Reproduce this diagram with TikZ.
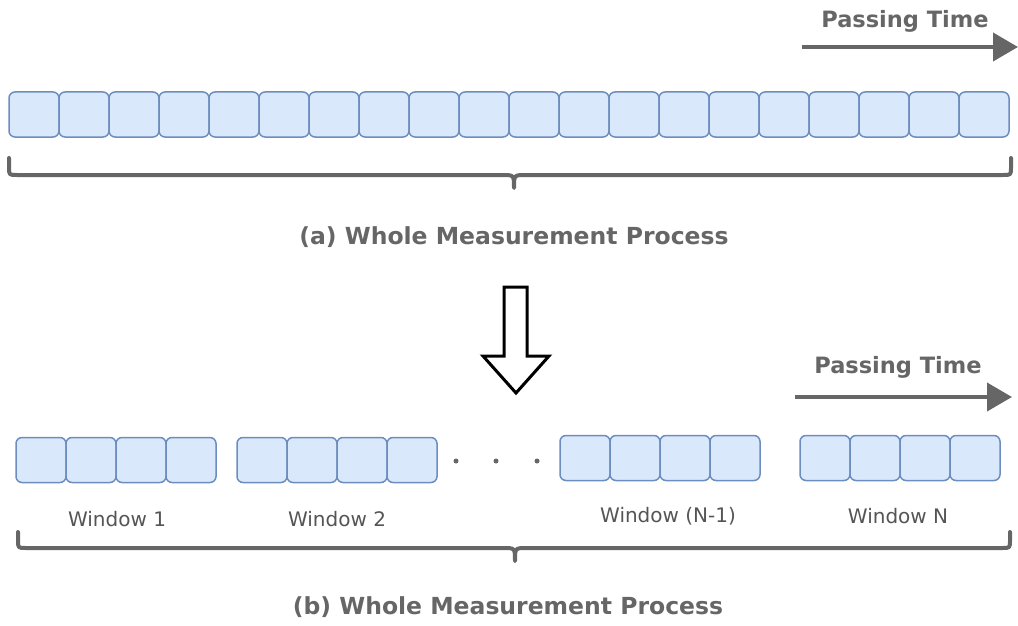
\documentclass[tikz,border=0pt]{standalone}
\usepackage{fontspec}
\setmainfont{DejaVu Sans}
\usetikzlibrary{arrows.meta}
\definecolor{cellfill}{HTML}{DAE8FC}
\definecolor{cellline}{HTML}{6C8EBF}
\definecolor{ink}{HTML}{666666}
\definecolor{labelink}{HTML}{555555}
\tikzset{
  cell/.style={draw=cellline, fill=cellfill, line width=1.5pt, rounded corners=6pt,
    minimum width=50pt, minimum height=45pt, inner sep=0pt, outer sep=0pt},
  timearrow/.style={draw=ink, line width=4pt, -{Triangle[length=25pt,width=28pt]}},
  timelabel/.style={text=ink, font=\fontsize{22.5}{26}\selectfont\bfseries},
  title/.style={text=ink, font=\fontsize{23.5}{28}\selectfont\bfseries},
  winlabel/.style={text=labelink, font=\fontsize{20}{24}\selectfont},
  brace/.style={draw=ink, line width=4pt, line join=round, line cap=round},
  hollow/.style={draw=black, line width=3pt, fill=white, line join=miter},
  dot/.style={circle, fill=ink, inner sep=0pt, minimum size=5pt}
}
\begin{document}
\begin{tikzpicture}[x=1pt, y=-1pt]
\useasboundingbox (0,0) rectangle (1018,626);

% (a) the whole run as a single strip of samples
\node[timelabel] (ta) at (905,21) {Passing Time};
\coordinate (ta0) at (802,47);
\coordinate (ta1) at (1018,47);
\draw[timearrow] (ta0) -- (ta1);

\foreach \i in {1,...,20}
  \node[cell] (t\i) at ({34+50*(\i-1)},114.5) {};

\coordinate (ba) at (514,188);
\draw[brace] (9,158) -- (9,167) .. controls (9,175) .. (17,175) -- (502,175)
  .. controls (514,175) .. (ba) .. controls (514,175) .. (526,175)
  -- (1003,175) .. controls (1011,175) .. (1011,167) -- (1011,158);

\node[title] (capa) at (514,237) {(a) Whole Measurement Process};

% splitting step
\draw[hollow] (504,287) -- (527,287) -- (527,356) -- (549,356) -- (516,393)
  -- (483,356) -- (504,356) -- cycle;

% (b) the run cut into windows
\node[timelabel] (tb) at (898,367) {Passing Time};
\coordinate (tb0) at (795,397);
\coordinate (tb1) at (1012,397);
\draw[timearrow] (tb0) -- (tb1);

\foreach \w/\x/\y in {1/16/460, 2/237/460, 3/560/458, 4/800/458}
  \foreach \j in {1,...,4}
    \node[cell] (w\w c\j) at ({\x+25+50*(\j-1)},\y) {};

\node[dot] (d1) at (456,461) {};
\node[dot] (d2) at (496,461) {};
\node[dot] (d3) at (537,461) {};

\node[winlabel] (l1) at (117,519) {Window 1};
\node[winlabel] (l2) at (337,519) {Window 2};
\node[winlabel] (l3) at (668,516) {Window (N-1)};
\node[winlabel] (l4) at (898,516) {Window N};

\coordinate (bb) at (515,561);
\draw[brace] (18,532) -- (18,540) .. controls (18,548) .. (26,548) -- (503,548)
  .. controls (515,548) .. (bb) .. controls (515,548) .. (527,548)
  -- (1002,548) .. controls (1010,548) .. (1010,540) -- (1010,532);

\node[title] (capb) at (508,607) {(b) Whole Measurement Process};
\end{tikzpicture}
\end{document}
